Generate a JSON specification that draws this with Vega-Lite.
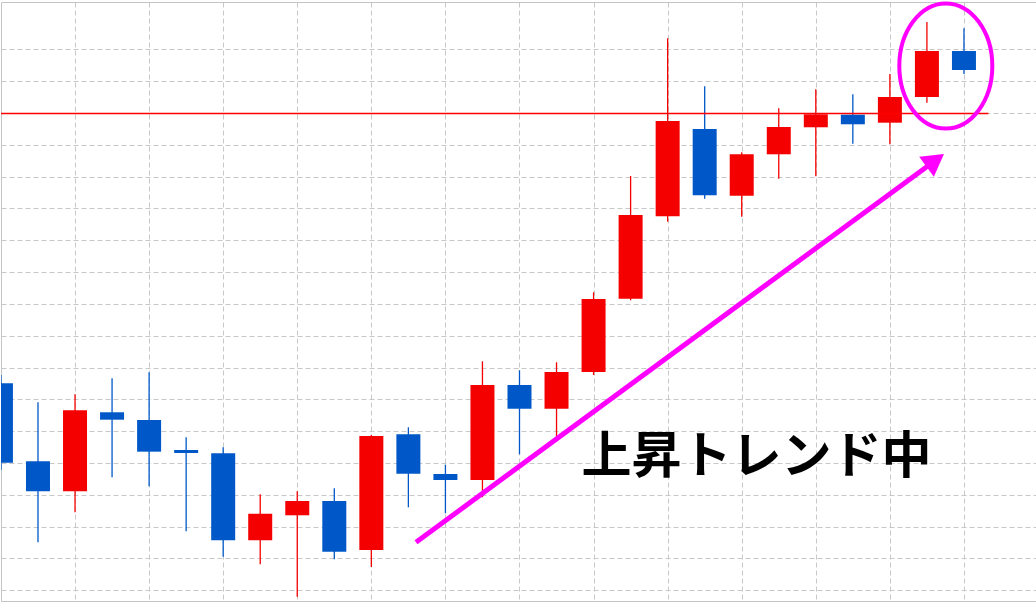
{
  "$schema": "https://vega.github.io/schema/vega-lite/v6.json",
  "width": 1035,
  "height": 599,
  "autosize": "none",
  "padding": {"left": 1, "top": 2, "right": 0, "bottom": 2},
  "background": "white",
  "config": {
    "view": {"stroke": "#c4c4c4", "strokeWidth": 1},
    "axis": {"minExtent": 0, "maxExtent": 0, "labels": false, "ticks": false, "domain": false, "title": null, "grid": true, "gridColor": "#c8c8c8", "gridDash": [5, 3], "gridWidth": 1}
  },
  "datasets": {
    "candles": [
      {"i": 0, "open": 65.05, "high": 67.66, "low": 37.81, "close": 40.10},
      {"i": 1, "open": 40.54, "high": 59.08, "low": 15.08, "close": 31.11},
      {"i": 2, "open": 31.11, "high": 61.60, "low": 24.51, "close": 56.57},
      {"i": 3, "open": 55.94, "high": 66.62, "low": 35.51, "close": 53.61},
      {"i": 4, "open": 53.52, "high": 68.51, "low": 32.68, "close": 43.56},
      {"i": 5, "open": 44.09, "high": 48.08, "low": 18.54, "close": 43.15},
      {"i": 6, "open": 43.05, "high": 44.94, "low": 10.56, "close": 15.71},
      {"i": 7, "open": 15.71, "high": 30.17, "low": 8.17, "close": 24.07},
      {"i": 8, "open": 23.57, "high": 31.11, "low": -2.01, "close": 28.06},
      {"i": 9, "open": 28.06, "high": 32.06, "low": 9.74, "close": 12.13},
      {"i": 10, "open": 12.67, "high": 48.81, "low": 7.32, "close": 48.49},
      {"i": 11, "open": 49.03, "high": 51.23, "low": 26.08, "close": 36.64},
      {"i": 12, "open": 36.55, "high": 39.47, "low": 24.20, "close": 34.66},
      {"i": 13, "open": 34.66, "high": 71.97, "low": 29.23, "close": 64.52},
      {"i": 14, "open": 64.52, "high": 69.14, "low": 42.74, "close": 57.07},
      {"i": 15, "open": 57.07, "high": 71.65, "low": 48.27, "close": 68.60},
      {"i": 16, "open": 68.60, "high": 93.65, "low": 67.66, "close": 91.55},
      {"i": 17, "open": 91.64, "high": 130.20, "low": 91.14, "close": 117.94},
      {"i": 18, "open": 117.54, "high": 173.48, "low": 115.84, "close": 147.49},
      {"i": 19, "open": 144.97, "high": 158.39, "low": 123.07, "close": 124.14},
      {"i": 20, "open": 124.01, "high": 137.65, "low": 117.41, "close": 137.02},
      {"i": 21, "open": 137.02, "high": 151.48, "low": 129.35, "close": 145.60},
      {"i": 22, "open": 145.51, "high": 157.45, "low": 130.11, "close": 149.59},
      {"i": 23, "open": 149.47, "high": 155.88, "low": 140.35, "close": 146.45},
      {"i": 24, "open": 146.95, "high": 162.26, "low": 140.16, "close": 155.03},
      {"i": 25, "open": 155.03, "high": 178.60, "low": 153.24, "close": 169.48},
      {"i": 26, "open": 169.48, "high": 176.62, "low": 162.26, "close": 163.51}
    ],
    "level": [{"price": 149.8, "from": 0, "to": 26.66}],
    "arrow": [{"i": 11.206, "price": 15.08}, {"i": 25.19, "price": 134.76}],
    "arrowhead": [{"i": 25.225, "price": 135.10}],
    "ring": [{"i": 25.51, "price": 164.77}],
    "label": [{"i": 20.4, "price": 41.7, "text": "上昇トレンド中"}]
  },
  "layer": [
    {
      "data": {"name": "candles"},
      "mark": {"type": "rule", "strokeWidth": 1.3, "clip": true},
      "encoding": {
        "x": {"field": "i", "type": "quantitative", "scale": {"domain": [0.1364, 27.81], "nice": false, "zero": false}, "axis": {"values": [2, 4, 6, 8, 10, 12, 14, 16, 18, 20, 22, 24, 26]}},
        "y": {"field": "low", "type": "quantitative", "scale": {"domain": [-3.37, 184.88], "nice": false, "zero": false}, "axis": {"values": [0, 10, 20, 30, 40, 50, 60, 70, 80, 90, 100, 110, 120, 130, 140, 150, 160, 170]}},
        "y2": {"field": "high"},
        "color": {"condition": {"test": "datum.close > datum.open", "value": "#f50000"}, "value": "#0058c8"}
      }
    },
    {
      "data": {"name": "candles"},
      "mark": {"type": "bar", "width": 24, "clip": true},
      "encoding": {
        "x": {"field": "i", "type": "quantitative", "axis": {"values": [2, 4, 6, 8, 10, 12, 14, 16, 18, 20, 22, 24, 26]}},
        "y": {"field": "open", "type": "quantitative", "axis": {"values": [0, 10, 20, 30, 40, 50, 60, 70, 80, 90, 100, 110, 120, 130, 140, 150, 160, 170]}},
        "y2": {"field": "close"},
        "color": {"condition": {"test": "datum.close > datum.open", "value": "#f50000"}, "value": "#0058c8"}
      }
    },
    {
      "data": {"name": "level"},
      "mark": {"type": "rule", "color": "#ff0000", "strokeWidth": 1.5, "clip": true},
      "encoding": {
        "x": {"field": "from", "type": "quantitative", "axis": {"values": [2, 4, 6, 8, 10, 12, 14, 16, 18, 20, 22, 24, 26]}},
        "x2": {"field": "to"},
        "y": {"field": "price", "type": "quantitative", "axis": {"values": [0, 10, 20, 30, 40, 50, 60, 70, 80, 90, 100, 110, 120, 130, 140, 150, 160, 170]}}
      }
    },
    {
      "data": {"name": "arrow"},
      "mark": {"type": "line", "color": "#ff00ff", "strokeWidth": 5, "strokeCap": "butt"},
      "encoding": {
        "x": {"field": "i", "type": "quantitative", "axis": {"values": [2, 4, 6, 8, 10, 12, 14, 16, 18, 20, 22, 24, 26]}},
        "y": {"field": "price", "type": "quantitative", "axis": {"values": [0, 10, 20, 30, 40, 50, 60, 70, 80, 90, 100, 110, 120, 130, 140, 150, 160, 170]}}
      }
    },
    {
      "data": {"name": "arrowhead"},
      "mark": {"type": "point", "shape": "triangle-up", "size": 620, "angle": 54, "filled": true, "color": "#ff00ff", "opacity": 1},
      "encoding": {
        "x": {"field": "i", "type": "quantitative", "axis": {"values": [2, 4, 6, 8, 10, 12, 14, 16, 18, 20, 22, 24, 26]}},
        "y": {"field": "price", "type": "quantitative", "axis": {"values": [0, 10, 20, 30, 40, 50, 60, 70, 80, 90, 100, 110, 120, 130, 140, 150, 160, 170]}}
      }
    },
    {
      "data": {"name": "ring"},
      "mark": {"type": "point", "shape": "M0,-1A0.744,1,0,1,1,0,1A0.744,1,0,1,1,0,-1Z", "size": 15625, "filled": false, "stroke": "#ff00ff", "strokeWidth": 4, "opacity": 1},
      "encoding": {
        "x": {"field": "i", "type": "quantitative", "axis": {"values": [2, 4, 6, 8, 10, 12, 14, 16, 18, 20, 22, 24, 26]}},
        "y": {"field": "price", "type": "quantitative", "axis": {"values": [0, 10, 20, 30, 40, 50, 60, 70, 80, 90, 100, 110, 120, 130, 140, 150, 160, 170]}}
      }
    },
    {
      "data": {"name": "label"},
      "mark": {"type": "text", "font": "Noto Sans CJK JP", "fontSize": 50, "fontWeight": "bold", "color": "#000000", "align": "center", "baseline": "middle"},
      "encoding": {
        "x": {"field": "i", "type": "quantitative", "axis": {"values": [2, 4, 6, 8, 10, 12, 14, 16, 18, 20, 22, 24, 26]}},
        "y": {"field": "price", "type": "quantitative", "axis": {"values": [0, 10, 20, 30, 40, 50, 60, 70, 80, 90, 100, 110, 120, 130, 140, 150, 160, 170]}},
        "text": {"field": "text"}
      }
    }
  ]
}
